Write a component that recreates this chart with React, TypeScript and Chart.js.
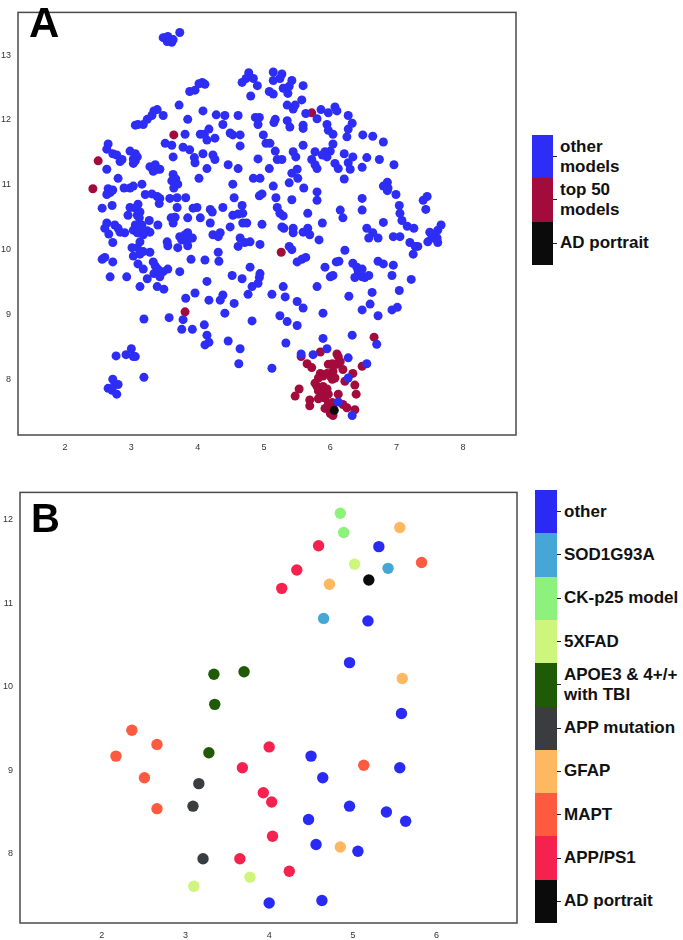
import React, { useEffect, useRef } from "react";
import { Chart, registerables } from "chart.js";

Chart.register(...registerables);

const FONT = "'Liberation Sans', Arial, Helvetica, sans-serif";

type Pt = [number, number];

// ---------- Panel A data ----------
const xTicksA = [2, 3, 4, 5, 6, 7, 8];
const yTicksA = [8, 9, 10, 11, 12, 13];

const otherModelsA: Pt[] = [
  [3.48,13.27],[3.55,13.29],[3.63,13.24],[3.61,13.20],[3.54,13.21],[3.73,13.35],
  [4.07,12.58],[4.11,12.55],[4.02,12.56],[3.88,12.44],[3.96,12.46],[3.72,12.23],
  [3.34,12.14],[3.39,12.16],[3.48,12.07],[3.31,12.07],[3.24,12.01],[3.18,11.93],[3.06,11.92],[3.10,11.93],
  [3.85,12.01],[4.08,12.14],[4.28,12.08],[4.41,12.07],[4.38,11.93],[4.61,12.07],
  [3.81,11.78],[4.04,11.78],[4.10,11.78],[4.17,11.86],[4.14,11.69],[4.26,11.72],[4.49,11.80],[4.53,11.77],
  [3.51,11.64],[3.61,11.61],[3.78,11.58],[3.88,11.54],[3.63,11.43],[3.95,11.42],[3.96,11.34],[4.08,11.48],[4.23,11.46],[4.26,11.39],[4.14,11.25],[4.02,11.10],[4.46,11.31],[4.61,11.25],[4.53,11.01],
  [2.65,11.63],[2.63,11.55],[2.72,11.48],[2.78,11.46],[2.83,11.36],[2.86,11.39],[2.63,11.24],[2.80,11.10],
  [2.98,11.52],[3.06,11.48],[3.03,11.40],[3.09,11.43],[3.03,11.33],[3.06,11.37],
  [3.28,11.28],[3.36,11.31],[3.39,11.24],[3.43,11.24],[3.33,11.21],
  [3.63,11.16],[3.67,11.09],[3.61,11.06],[3.70,11.01],[3.64,10.95],
  [3.16,11.01],[3.03,10.98],[2.98,10.95],[2.89,10.95],[2.65,10.94],[2.72,10.92],[2.68,10.88],[2.63,10.85],
  [2.56,10.64],[2.71,10.68],[2.98,10.65],[3.06,10.64],[3.10,10.70],[3.13,10.58],[2.95,10.53],[3.09,10.53],[3.12,10.49],[3.16,10.38],[3.27,10.45],
  [3.21,10.85],[3.31,10.86],[3.39,10.82],[3.43,10.79],[3.42,10.71],[3.58,10.79],[3.69,10.80],[3.82,10.80],
  [3.69,10.65],[3.93,10.64],[3.99,10.65],[4.04,10.49],[4.19,10.62],[4.22,10.58],[4.38,10.65],[4.53,10.53],[4.61,10.55],[4.19,10.41],[4.49,10.35],
  [3.60,10.49],[3.66,10.50],[3.63,10.41],[3.85,10.49],[3.40,10.38],
  [2.63,10.41],[2.60,10.33],[2.75,10.38],[2.80,10.33],[2.90,10.26],[2.83,10.27],
  [3.06,10.38],[3.03,10.30],[3.09,10.26],[3.13,10.30],[3.24,10.29],[3.28,10.27],[3.18,10.23],[2.66,10.24],
  [3.54,10.12],[3.73,10.20],[3.81,10.23],[3.85,10.26],[3.92,10.18],[3.76,10.15],[3.84,10.12],
  [4.23,10.23],[4.31,10.20],[4.34,10.26],[4.64,10.18],[2.72,10.11],[3.13,10.12],
  [2.56,9.85],[2.60,9.88],[2.72,9.81],[2.68,9.58],[2.93,9.58],
  [3.01,10.03],[3.09,10.03],[3.03,9.90],[3.13,9.93],[3.18,9.97],[3.28,9.96],[3.10,9.78],[3.18,9.70],[3.24,9.55],[3.13,9.43],
  [3.33,9.81],[3.36,9.75],[3.40,9.70],[3.48,9.66],[3.34,9.63],[3.43,9.58],[3.55,9.70],[3.39,9.43],[3.49,9.39],[3.73,9.66],
  [3.55,10.06],[3.70,10.03],[3.85,10.06],[3.90,9.85],[4.11,9.84],[4.14,9.51],[3.96,9.33],[3.82,9.25],[4.17,9.22],[4.34,9.22],[4.38,9.30],[4.55,9.17],[4.41,9.02],
  [3.78,8.92],[3.57,8.95],[3.19,8.93],[3.76,8.77],[3.92,8.77],[4.10,8.84],[4.14,8.68],[4.11,8.53],[4.17,8.57],[4.46,8.59],[4.64,8.47],[4.62,8.24],
  [4.52,9.60],[4.31,9.96],[4.32,9.82],[4.61,10.05],
  [3.00,8.47],[2.92,8.38],[3.03,8.35],[3.06,8.35],[2.77,8.36],[3.19,8.03],
  [2.72,8.00],[2.65,7.86],[2.71,7.83],[2.78,7.77],[2.75,7.92],[2.80,7.92],
  [4.77,12.73],[4.73,12.64],[4.84,12.64],[4.67,12.58],[4.90,12.53],[4.80,12.37],
  [5.14,12.74],[5.27,12.71],[5.14,12.61],[5.24,12.64],[5.42,12.61],[5.29,12.49],[5.38,12.52],[5.59,12.53],[5.36,12.41],[5.08,12.44],[5.14,12.40],
  [5.57,12.31],[5.47,12.23],[5.35,12.23],[5.44,12.17],[5.86,12.16],[5.97,12.11],[6.07,12.20],[6.10,12.14],[5.63,12.10],[5.80,12.02],
  [4.87,12.04],[4.93,12.04],[4.91,11.93],[5.17,12.01],[5.15,11.96],[5.35,11.99],[5.39,11.89],[5.59,11.92],[5.59,11.87],
  [6.27,12.07],[6.33,11.95],[6.27,11.86],[6.25,11.74],[5.95,11.93],[5.97,11.84],[6.04,11.78],[6.49,11.77],[6.64,11.75],[6.80,11.66],
  [4.64,11.77],[4.64,11.60],[4.99,11.77],[5.03,11.64],[5.09,11.64],[5.59,11.61],[6.04,11.63],
  [5.17,11.52],[5.20,11.39],[5.27,11.39],[5.44,11.51],[5.48,11.43],[4.91,11.40],
  [5.77,11.51],[5.72,11.39],[5.77,11.31],[5.80,11.25],[5.92,11.51],[6.00,11.52],[5.95,11.43],[5.88,11.46],[6.07,11.33],[6.12,11.25],
  [6.21,11.48],[6.34,11.43],[6.27,11.34],[6.30,11.24],[6.55,11.42],[6.74,11.39],[6.48,11.27],[6.96,11.31],
  [5.08,11.25],[5.42,11.18],[5.50,11.24],[5.51,11.10],[5.38,11.03],[4.84,11.10],[4.94,11.10],[5.60,10.95],[5.14,10.98],[6.21,11.09],
  [5.80,10.89],[5.80,10.76],[5.42,10.77],[4.97,10.86],[4.93,10.83],[5.18,10.80],[4.55,10.80],
  [4.67,10.68],[4.68,10.56],[5.20,10.65],[5.24,10.56],[5.29,10.52],[5.66,10.56],[5.88,10.41],[6.15,10.61],[6.19,10.49],[6.48,10.79],[6.48,10.61],
  [6.86,11.04],[6.80,10.98],[6.87,10.95],[6.86,10.91],[6.99,10.85],[7.04,10.68],[7.05,10.56],[7.08,10.45],[7.16,10.36],
  [7.40,10.76],[7.46,10.82],[7.44,10.62],[6.80,10.42],[6.55,10.33],[6.64,10.26],[6.72,10.18],[6.58,10.18],[6.95,10.20],[7.05,10.20],[7.26,10.33],
  [7.50,10.27],[7.55,10.23],[7.61,10.18],[7.53,10.18],[7.67,10.38],[7.62,10.30],
  [4.68,10.41],[4.74,10.41],[4.97,10.39],[5.27,10.35],[5.30,10.33],[5.44,10.33],[5.44,10.26],[5.59,10.27],[5.66,10.33],[5.69,10.23],[5.83,10.15],
  [4.79,10.12],[4.94,10.08],[7.20,10.11],
  [7.62,10.11],[7.47,10.12],[7.28,10.05],[7.32,10.05],[7.25,9.93],
  [4.71,10.11],[5.38,10.05],[5.42,10.00],[5.50,9.81],[5.57,9.85],[5.63,9.88],
  [4.79,9.73],[4.67,9.55],[4.94,9.63],[4.93,9.57],[4.91,9.48],[4.82,9.43],[4.76,9.31],
  [5.12,9.31],[5.29,9.43],[5.32,9.27],[5.50,9.20],[5.59,9.10],[5.80,9.43],
  [5.92,9.73],[6.09,9.81],[6.13,9.82],[6.22,9.99],[6.34,9.79],[6.40,9.73],[6.42,9.67],[6.37,9.57],[6.48,9.58],[6.52,9.57],[6.58,9.60],[6.48,9.70],
  [6.00,9.58],[6.04,9.60],[5.89,9.02],[6.28,9.28],
  [6.72,9.82],[6.80,9.78],[6.95,9.76],[6.93,9.60],[7.22,9.54],[6.63,9.34],[7.04,9.37],[6.60,9.16],[6.48,9.07],[6.93,9.07],[7.01,9.11],[6.72,8.98],
  [5.24,8.98],[5.35,8.89],[5.50,8.83],[4.82,8.90],[5.33,8.56],[5.12,8.17],
  [5.89,8.63],[5.95,8.47],[6.33,8.68],[6.70,8.54],[5.56,8.39],[5.74,8.38],[6.27,8.33],[6.55,8.24],[6.27,8.02],[6.12,7.65],[6.33,7.44],
];

const top50ModelsA: Pt[] = [
  [3.64,11.77],[2.50,11.37],[2.42,10.94],[3.81,9.04],[5.72,12.11],[5.26,9.96],[6.66,8.65],
  [5.56,8.35],[5.85,8.42],[6.10,8.39],[6.12,8.35],[6.15,8.27],[6.10,8.23],[5.97,8.23],[6.03,8.24],
  [5.65,8.24],[5.72,8.18],[6.48,8.20],[5.85,8.09],[5.89,8.05],[5.95,8.09],[6.00,8.05],[6.03,8.00],
  [6.04,8.12],[6.07,8.02],[5.82,8.02],[6.19,8.15],[6.34,8.09],[6.22,7.97],[5.77,7.94],[5.80,7.89],
  [5.85,7.86],[5.89,7.89],[5.95,7.85],[5.82,7.82],[5.88,7.79],[5.97,7.77],[5.92,7.71],[5.82,7.70],
  [6.37,7.91],[6.39,7.77],[5.53,7.85],[5.47,7.74],[6.12,7.77],[5.69,7.68],[5.69,7.59],[5.97,7.62],
  [6.03,7.64],[6.04,7.55],[5.92,7.55],[6.00,7.47],[6.19,7.61],[6.25,7.56],[6.37,7.53],[6.04,7.44],
];

const adPortraitA: Pt[] = [[6.06, 7.52]];

const legendLabelsA = ["other\nmodels", "top 50\nmodels", "AD portrait"];
const legendColorsA = ["#2d2df6", "#a30b3c", "#0b0b0b"];

// ---------- Panel B data ----------
const xTicksB = [2, 3, 4, 5, 6];
const yTicksB = [8, 9, 10, 11, 12];

const otherB: Pt[] = [[4.50,9.17],[4.64,8.91],[4.47,8.41],[4.56,8.11],[4.00,7.41],[4.63,7.44],[5.31,11.68],[5.18,10.79],[4.96,10.29],[5.58,9.68],[5.56,9.03],[4.96,8.57],[5.40,8.50],[5.63,8.39],[5.06,8.03]];
const sod1g93aB: Pt[] = [[5.42,11.42],[4.65,10.82]];
const ckp25B: Pt[] = [[4.85,12.08],[4.89,11.85]];
const xfad5B: Pt[] = [[5.02,11.47],[3.10,7.61],[3.77,7.72]];
const apoeTbiB: Pt[] = [[3.34,10.15],[3.70,10.18],[3.35,9.79],[3.28,9.21]];
const appMutationB: Pt[] = [[3.16,8.84],[3.09,8.57],[3.21,7.94]];
const gfapB: Pt[] = [[5.56,11.91],[4.72,11.23],[5.59,10.10],[4.85,8.08]];
const maptB: Pt[] = [[2.36,9.48],[2.66,9.31],[2.17,9.17],[2.51,8.91],[2.66,8.54],[5.82,11.49],[5.13,9.06]];
const appPs1B: Pt[] = [[4.59,11.69],[4.33,11.40],[4.15,11.18],[4.00,9.28],[3.68,9.03],[3.93,8.73],[4.03,8.62],[4.04,8.21],[3.65,7.94],[4.24,7.79]];
const adPortraitB: Pt[] = [[5.19,11.28]];

const categoriesB = ["other", "SOD1G93A", "CK-p25 model", "5XFAD", "APOE3 & 4+/+\nwith TBI", "APP mutation", "GFAP", "MAPT", "APP/PS1", "AD portrait"];
const colorsB = ["#2a2af5", "#46a6d6", "#8cf27c", "#cff67c", "#1f5a06", "#3a3d40", "#fdb860", "#fe5a3f", "#f5224f", "#0b0b0b"];
const seriesB: Pt[][] = [otherB, sod1g93aB, ckp25B, xfad5B, apoeTbiB, appMutationB, gfapB, maptB, appPs1B, adPortraitB];

// ---------- helpers ----------
const framePlugin = {
  id: "frameBox",
  beforeDatasetsDraw(chart: any) {
    const { ctx, chartArea } = chart;
    ctx.save();
    ctx.strokeStyle = "#4a4a4a";
    ctx.lineWidth = 1.5;
    ctx.strokeRect(chartArea.left, chartArea.top, chartArea.right - chartArea.left, chartArea.bottom - chartArea.top);
    ctx.restore();
  },
};

function mkDataset(pts: Pt[], color: string, radius: number, order: number) {
  return {
    data: pts.map(([x, y]) => ({ x, y })),
    backgroundColor: color,
    borderColor: color,
    pointBackgroundColor: color,
    pointBorderWidth: 0,
    pointRadius: radius,
    pointHoverRadius: radius,
    order,
  };
}

interface PanelProps {
  top: number;
  width: number;
  height: number;
  datasets: any[];
  xMin: number; xMax: number; yMin: number; yMax: number;
  xTicks: number[]; yTicks: number[];
  padTop: number; padRight: number;
  yAxisWidth: number; xAxisHeight: number;
}

function ScatterPanel(p: PanelProps) {
  const ref = useRef<HTMLCanvasElement>(null);
  useEffect(() => {
    const tickFont = { family: FONT, size: 9 };
    const chart = new Chart(ref.current as HTMLCanvasElement, {
      type: "scatter",
      data: { datasets: p.datasets },
      options: {
        animation: false,
        responsive: false,
        maintainAspectRatio: false,
        layout: { padding: { top: p.padTop, right: p.padRight, left: 0, bottom: 0 } },
        plugins: { legend: { display: false }, tooltip: { enabled: false } },
        scales: {
          x: {
            type: "linear",
            min: p.xMin,
            max: p.xMax,
            grid: { display: false, drawTicks: false },
            border: { display: false },
            ticks: { autoSkip: false, padding: 7, color: "#333", font: tickFont, maxRotation: 0 },
            afterBuildTicks: (s: any) => { s.ticks = p.xTicks.map((v) => ({ value: v })); },
            afterFit: (s: any) => { s.height = p.xAxisHeight; },
          },
          y: {
            type: "linear",
            min: p.yMin,
            max: p.yMax,
            grid: { display: false, drawTicks: false },
            border: { display: false },
            ticks: { autoSkip: false, padding: 7, color: "#333", font: tickFont },
            afterBuildTicks: (s: any) => { s.ticks = p.yTicks.map((v) => ({ value: v })); },
            afterFit: (s: any) => { s.width = p.yAxisWidth; },
          },
        },
      } as any,
      plugins: [framePlugin],
    });
    return () => chart.destroy();
  }, []);
  return (
    <canvas
      ref={ref}
      width={p.width}
      height={p.height}
      style={{ position: "absolute", left: 0, top: p.top, width: p.width, height: p.height, display: "block" }}
    />
  );
}

function ColorLegend({ left, top, barW, segH, colors, labels }: { left: number; top: number; barW: number; segH: number; colors: string[]; labels: string[] }) {
  return (
    <>
      {colors.map((c, i) => (
        <div key={"s" + i} style={{ position: "absolute", left, top: top + i * segH, width: barW, height: segH + 0.5, background: c }} />
      ))}
      {labels.map((t, i) => (
        <React.Fragment key={"l" + i}>
          <div style={{ position: "absolute", left: left + barW, top: top + i * segH + segH / 2 - 0.5, width: 4, height: 1, background: "#222" }} />
          <div
            style={{
              position: "absolute",
              left: left + barW + 7,
              top: top + i * segH,
              height: segH,
              display: "flex",
              alignItems: "center",
              whiteSpace: "pre",
              fontFamily: FONT,
              fontWeight: 700,
              fontSize: 17,
              lineHeight: "20px",
              color: "#111",
            }}
          >
            {t}
          </div>
        </React.Fragment>
      ))}
    </>
  );
}

export default function App() {
  const datasetsA = [
    mkDataset(adPortraitA, "#0b0b0b", 4.5, 0),
    mkDataset(otherModelsA, "#2d2df6", 4.5, 1),
    mkDataset(top50ModelsA, "#a30b3c", 4.5, 2),
  ];
  const datasetsB = seriesB.map((pts, i) => mkDataset(pts, colorsB[i], 5.7, i === 9 ? 0 : 1));

  return (
    <div style={{ position: "absolute", left: 0, top: 0, width: 683, height: 940, background: "#fff", overflow: "hidden" }}>
      <ScatterPanel
        top={0} width={530} height={462}
        datasets={datasetsA}
        xMin={1.291} xMax={8.80} yMin={7.14} yMax={13.66}
        xTicks={xTicksA} yTicks={yTicksA}
        padTop={2} padRight={14} yAxisWidth={18} xAxisHeight={27}
      />
      <ScatterPanel
        top={480} width={530} height={460}
        datasets={datasetsB}
        xMin={1.024} xMax={6.96} yMin={7.17} yMax={12.33}
        xTicks={xTicksB} yTicks={yTicksB}
        padTop={11} padRight={13} yAxisWidth={20} xAxisHeight={17}
      />
      <div style={{ position: "absolute", left: 29, top: 2.4, fontFamily: FONT, fontWeight: 700, fontSize: 42, lineHeight: "42px", color: "#000" }}>A</div>
      <div style={{ position: "absolute", left: 31, top: 498, fontFamily: FONT, fontWeight: 700, fontSize: 40, lineHeight: "40px", color: "#000" }}>B</div>
      <ColorLegend left={532} top={135} barW={21} segH={43.33} colors={legendColorsA} labels={legendLabelsA} />
      <ColorLegend left={535} top={490} barW={22} segH={43.3} colors={colorsB} labels={categoriesB} />
    </div>
  );
}
